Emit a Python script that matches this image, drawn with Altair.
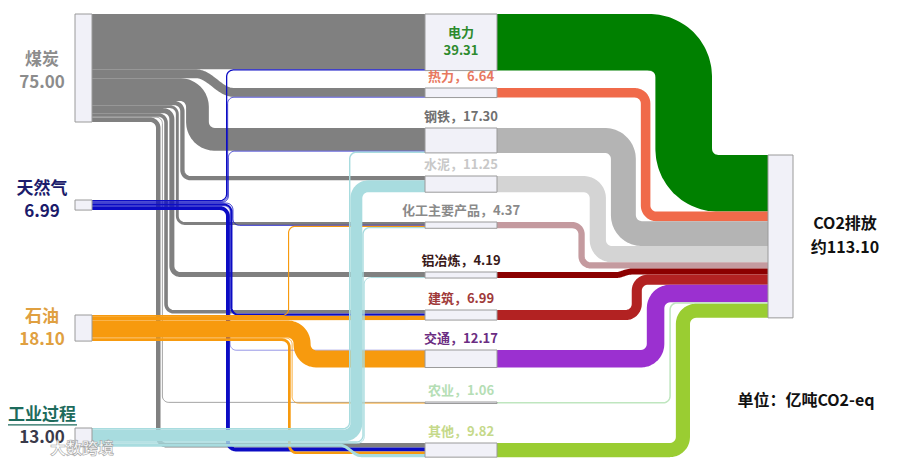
import math
import altair as alt
import pandas as pd

# ------------------------------------------------------------------ data
sources = ["煤炭", "天然气", "石油", "工业过程"]
source_values = [75.00, 6.99, 18.10, 13.00]
sectors = ["电力", "热力", "钢铁", "水泥", "化工主要产品", "铝冶炼", "建筑", "交通", "农业", "其他"]
sector_values = [39.31, 6.64, 17.30, 11.25, 4.37, 4.19, 6.99, 12.17, 1.06, 9.82]
coal_to_sector = [38.41, 6.14, 15.81, 3.00, 2.00, 3.50, 2.50, 0.00, 0.50, 3.14]
gas_to_sector = [0.90, 0.50, 0.50, 0.00, 0.60, 0.00, 1.50, 0.30, 0.00, 2.69]
oil_to_sector = [0.00, 0.00, 0.00, 0.00, 0.80, 0.00, 2.99, 11.87, 0.56, 1.88]
process_to_sector = [0.00, 0.00, 0.99, 8.25, 0.97, 0.69, 0.00, 0.00, 0.00, 2.10]
sink_name = "CO2排放"
sink_prefix = "约"
unit_text = "单位：亿吨CO2-eq"
watermark_text = "大数跨境"

# ------------------------------------------------------------------ style / layout
K = 1.44                      # px per unit (sankey scale)
SRC_X0, SRC_X1 = 75, 92
SEC_X0, SEC_X1 = 425, 497
SNK_X0, SNK_X1 = 768, 793
src_top = [14, 200, 315, 428]
sec_top = [14, 88, 128, 176, 222, 272, 310, 350, 402, 443]
snk_top = 155
src_lane = [156, 226, 288, 349]
src_gap = [1.5, 0, 1, 0]
right_lane_down = 712
right_lane_up = 690
right_gap = 5
label_dy = [3, -5, 0, -11]

source_colors = ["#808080", "#0c0cc4", "#f79a0e", "#a8dcdf"]
sector_colors = ["#008000", "#f06a4a", "#b4b4b4", "#d4d4d4", "#c49a9f",
                 "#8b0000", "#b22222", "#9b30d0", "#bfe6bf", "#9acd32"]
source_label_colors = ["#8c8c8c", "#1b1b6b", "#e0a040", "#1d6b5c"]
source_value_colors = ["#8c8c8c", "#1b1b6b", "#e0a040", "#3a3a4a"]
sector_label_colors = ["#2d8a2d", "#e8785e", "#707070", "#c8c8c8", "#8a8a8a",
                       "#3a1a1a", "#a03a3a", "#6b2d82", "#b5deb5", "#c5d98a"]


# ------------------------------------------------------------------ geometry helpers
def unit(a, b):
    dx, dy = b[0] - a[0], b[1] - a[1]
    L = math.hypot(dx, dy)
    return (dx / L, dy / L), L


def rounded(pts, w, n=10):
    out = [pts[0]]
    m = len(pts)
    for i in range(1, m - 1):
        p0, p1, p2 = pts[i - 1], pts[i], pts[i + 1]
        din, lin = unit(p0, p1)
        dout, lout = unit(p1, p2)
        r = min(w / 2 + 6, lin if i == 1 else lin / 2, lout if i == m - 2 else lout / 2)
        sx, sy = p1[0] - r * din[0], p1[1] - r * din[1]
        cx, cy = sx + r * dout[0], sy + r * dout[1]
        for j in range(n + 1):
            th = j / n * math.pi / 2
            out.append((cx - r * dout[0] * math.cos(th) + r * din[0] * math.sin(th),
                        cy - r * dout[1] * math.cos(th) + r * din[1] * math.sin(th)))
    out.append(pts[-1])
    return out


def link_path(x0, y0, lane, y1, x1, w):
    dy = y1 - y0
    if abs(dy) < 0.8:
        return [(x0, y0), (x1, y1)]
    r = w / 2 + 6
    if abs(dy) < 2 * r:
        L = max(2 * abs(dy), w + 8, 16)
        pts = [(x0, y0)]
        for j in range(17):
            t = j / 16
            pts.append((lane - L / 2 + L * t, y0 + dy * (1 - math.cos(math.pi * t)) / 2))
        pts.append((x1, y1))
        return pts
    return rounded([(x0, y0), (lane, y0), (lane, y1), (x1, y1)], w)


# ------------------------------------------------------------------ sankey layout
flows = [coal_to_sector, gas_to_sector, oil_to_sector, process_to_sector]
links = []
for s in range(len(sources)):
    off = src_top[s]
    for j in range(len(sectors)):
        v = flows[s][j]
        if v <= 0:
            continue
        w = v * K
        links.append(dict(s=s, j=j, v=v, w=w, ys=off + w / 2))
        off += w
sec_off = list(sec_top)
for l in links:
    l["yt"] = sec_off[l["j"]] + l["w"] / 2
    sec_off[l["j"]] += l["w"]

for s in range(len(sources)):
    ls = [l for l in links if l["s"] == s]
    ups = sorted([l for l in ls if l["yt"] < l["ys"] - 0.8], key=lambda l: l["yt"])
    downs = sorted([l for l in ls if l["yt"] > l["ys"] + 0.8], key=lambda l: -l["yt"])
    for group in (ups, downs):
        cur = src_lane[s]
        for l in group:
            l["lane"] = cur + l["w"] / 2
            cur += l["w"] + src_gap[s]
    for l in ls:
        l.setdefault("lane", (SRC_X1 + SEC_X0) / 2)

rlinks = []
off = snk_top
for j in range(len(sectors)):
    w = sector_values[j] * K
    rlinks.append(dict(j=j, v=sector_values[j], w=w, ys=sec_top[j] + w / 2, yt=off + w / 2))
    off += w
rdown = [l for l in rlinks if l["yt"] > l["ys"] + 0.8]
rup = sorted([l for l in rlinks if l["yt"] < l["ys"] - 0.8], key=lambda l: -l["ys"])
cur = right_lane_down
for l in rdown:
    l["lane"] = cur - l["w"] / 2
    cur -= l["w"] + right_gap
cur = right_lane_up
for l in rup:
    l["lane"] = cur - l["w"] / 2
    cur -= l["w"] + right_gap
for l in rlinks:
    l.setdefault("lane", (SEC_X1 + SNK_X0) / 2)

rows = []
k = 0
for l in links:
    for i, (x, y) in enumerate(link_path(SRC_X1, l["ys"], l["lane"], l["yt"], SEC_X0, l["w"])):
        rows.append(dict(id=f"L{k:03d}", i=i, x=x, y=y, value=l["v"], color=source_colors[l["s"]]))
    k += 1
for l in rlinks:
    for i, (x, y) in enumerate(link_path(SEC_X1, l["ys"], l["lane"], l["yt"], SNK_X0, l["w"])):
        rows.append(dict(id=f"L{k:03d}", i=i, x=x, y=y, value=l["v"], color=sector_colors[l["j"]]))
    k += 1
df_links = pd.DataFrame(rows)

nodes = []
for s in range(len(sources)):
    nodes.append(dict(x0=SRC_X0, x1=SRC_X1, y0=src_top[s], y1=src_top[s] + source_values[s] * K))
for j in range(len(sectors)):
    nodes.append(dict(x0=SEC_X0, x1=SEC_X1, y0=sec_top[j], y1=sec_top[j] + sector_values[j] * K))
total = sum(sector_values)
nodes.append(dict(x0=SNK_X0, x1=SNK_X1, y0=snk_top, y1=snk_top + total * K))
df_nodes = pd.DataFrame(nodes)

texts = []
for s in range(len(sources)):
    cy = src_top[s] + source_values[s] * K / 2 + label_dy[s]
    texts.append(dict(x=42, y=cy - 11.5, t=sources[s], c=source_label_colors[s], size=17))
    texts.append(dict(x=42, y=cy + 11.5, t=f"{source_values[s]:.2f}", c=source_value_colors[s], size=17))
cxs = (SEC_X0 + SEC_X1) / 2
for j in range(len(sectors)):
    h = sector_values[j] * K
    if h > 30:
        cy = sec_top[j] + h / 2
        texts.append(dict(x=cxs, y=cy - 9, t=sectors[j], c=sector_label_colors[j], size=13))
        texts.append(dict(x=cxs, y=cy + 9, t=f"{sector_values[j]:.2f}", c=sector_label_colors[j], size=13))
    else:
        texts.append(dict(x=cxs, y=sec_top[j] - 11, t=f"{sectors[j]}，{sector_values[j]:.2f}",
                          c=sector_label_colors[j], size=13))
cy = snk_top + total * K / 2
texts.append(dict(x=SNK_X1 + 52, y=cy - 12, t=sink_name, c="#111111", size=16))
texts.append(dict(x=SNK_X1 + 52, y=cy + 12, t=f"{sink_prefix}{total:.2f}", c="#111111", size=16))
texts.append(dict(x=806, y=401, t=unit_text, c="#111111", size=16))
df_text = pd.DataFrame(texts)

xs = alt.Scale(domain=[8, 892], nice=False, zero=False)
ys = alt.Scale(domain=[8, 458], nice=False, zero=False, reverse=True)

lines = alt.Chart(df_links).mark_line(strokeCap="butt", strokeJoin="round").encode(
    x=alt.X("x:Q", scale=xs, axis=None),
    y=alt.Y("y:Q", scale=ys, axis=None),
    detail="id:N",
    order="i:Q",
    color=alt.Color("color:N", scale=None),
    strokeWidth=alt.StrokeWidth("value:Q", scale=alt.Scale(domain=[0, 100], range=[0, 100 * K]), legend=None),
)

boxes = alt.Chart(df_nodes).mark_rect(fill="#f1f1f8", stroke="#9a9a9a", strokeWidth=1).encode(
    x=alt.X("x0:Q", scale=xs, axis=None), x2="x1:Q",
    y=alt.Y("y0:Q", scale=ys, axis=None), y2="y1:Q",
)

labels = alt.Chart(df_text).mark_text(font="Noto Sans CJK SC", fontWeight="bold", baseline="middle", align="center").encode(
    x=alt.X("x:Q", scale=xs, axis=None),
    y=alt.Y("y:Q", scale=ys, axis=None),
    text="t:N",
    color=alt.Color("c:N", scale=None),
    size=alt.Size("size:Q", scale=None),
)

# underline under 工业过程
ul_y = src_top[3] + source_values[3] * K / 2 + label_dy[3] - 11.5 + 10
df_ul = pd.DataFrame([dict(x=42 - 35, x2=42 + 35, y=ul_y)])
underline = alt.Chart(df_ul).mark_rule(color="#1d6b5c", strokeWidth=1.2).encode(
    x=alt.X("x:Q", scale=xs, axis=None), x2="x2:Q", y=alt.Y("y:Q", scale=ys, axis=None)
)

df_wm = pd.DataFrame([dict(x=82, y=449, t=watermark_text)])
wm = alt.Chart(df_wm).mark_text(font="Noto Sans CJK SC", fontSize=16, fontWeight="bold", fill="#ffffff",
                                stroke="#9a9a9a", strokeWidth=0.6, opacity=0.9, baseline="middle").encode(
    x=alt.X("x:Q", scale=xs, axis=None), y=alt.Y("y:Q", scale=ys, axis=None), text="t:N"
)

chart = alt.layer(lines, boxes, labels, underline, wm).properties(
    width=884, height=450, padding=0, autosize=alt.AutoSizeParams(type="none")
).configure_view(stroke=None)

chart.save("out.html", embed_options={"renderer": "svg", "actions": False})
